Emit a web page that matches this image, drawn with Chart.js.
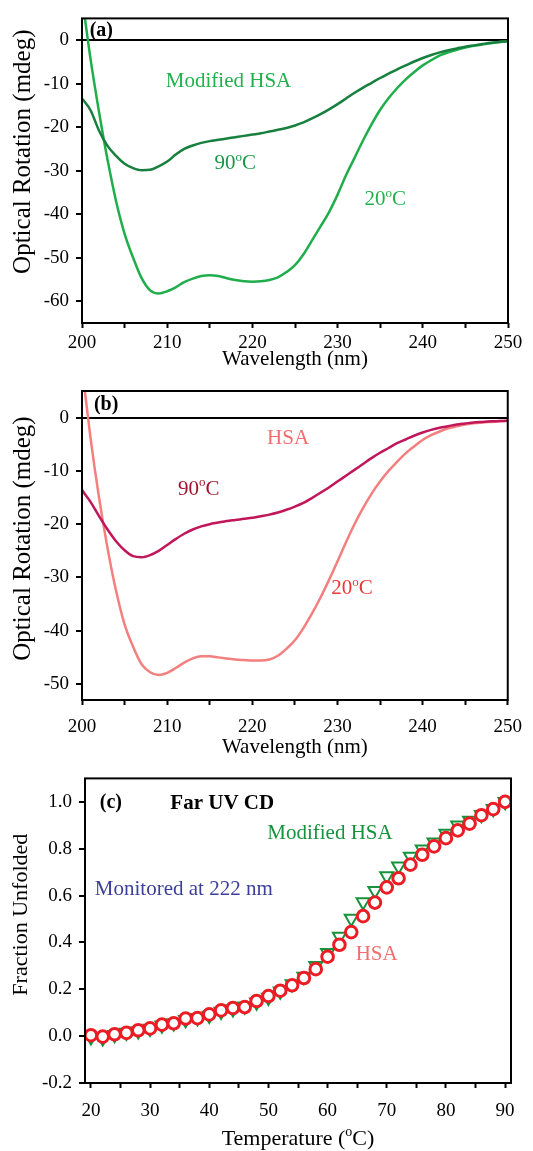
<!DOCTYPE html>
<html>
<head>
<meta charset="utf-8">
<title>CD spectra and thermal unfolding of HSA</title>
<script src="https://cdn.jsdelivr.net/npm/chart.js@4.4.1/dist/chart.umd.min.js"></script>
<style>
  html, body { margin: 0; padding: 0; background: #fff; }
  #wrap { position: relative; width: 533px; height: 1151px; }
  canvas { position: absolute; left: 0; }
</style>
</head>
<body>
<div id="wrap">
  <canvas id="panelA" width="533" height="372" style="top:0px"></canvas>
  <canvas id="panelB" width="533" height="388" style="top:372px"></canvas>
  <canvas id="panelC" width="533" height="391" style="top:760px"></canvas>
</div>
<script>
// wavelength grid of the far-UV CD spectra (nm)
const wavelength = [200, 201, 202, 203, 204, 205, 206, 207, 208, 209,
  210, 211, 212, 213, 214, 215, 216, 217, 218, 219,
  220, 221, 222, 223, 224, 225, 226, 227, 228, 229,
  230, 231, 232, 233, 234, 235, 236, 237, 238, 239,
  240, 241, 242, 243, 244, 245, 246, 247, 248, 249, 250];

// (a) modified HSA, optical rotation in mdeg
const modHsa20 = [10, -4.3, -16.5, -27.5, -37, -44.5, -50, -54.7, -57.5, -58.2,
  -57.7, -56.8, -55.6, -54.8, -54.2, -54, -54.2, -54.7, -55.1, -55.4,
  -55.5, -55.4, -55.1, -54.5, -53.3, -51.7, -49.2, -46, -42.8, -39.5,
  -35.5, -31, -27, -23, -19.3, -16, -13.3, -11, -9, -7.3,
  -5.8, -4.6, -3.5, -2.8, -2.2, -1.7, -1.3, -1, -0.7, -0.45, -0.25];
const modHsa90 = [-13.4, -16.1, -20.8, -24.3, -26.6, -28.4, -29.4, -29.9, -29.8, -29,
  -27.9, -26.3, -25, -24.2, -23.6, -23.2, -22.9, -22.6, -22.3, -22,
  -21.7, -21.4, -21, -20.6, -20.2, -19.6, -18.9, -18, -17, -15.9,
  -14.7, -13.4, -12.1, -10.9, -9.8, -8.7, -7.7, -6.7, -5.8, -4.9,
  -4.1, -3.4, -2.8, -2.3, -1.9, -1.5, -1.2, -0.9, -0.6, -0.4, -0.25];

// (b) native HSA
const hsa20 = [9.5, -3.8, -15, -24.5, -32.5, -38.8, -43, -46.3, -47.8, -48.3,
  -47.9, -47, -46, -45.2, -44.8, -44.8, -45, -45.2, -45.4, -45.5,
  -45.6, -45.6, -45.4, -44.7, -43.4, -41.8, -39.5, -36.8, -33.8, -30.5,
  -27, -23.4, -20, -17, -14.3, -12, -10, -8.3, -6.7, -5.4,
  -4.2, -3.3, -2.6, -2, -1.6, -1.3, -1.05, -0.9, -0.8, -0.7, -0.6];
const hsa90 = [-13.6, -15.8, -18.5, -21, -23.2, -24.9, -26, -26.2, -25.8, -25,
  -23.9, -22.8, -21.8, -21, -20.4, -20, -19.7, -19.4, -19.2, -19,
  -18.8, -18.5, -18.2, -17.8, -17.3, -16.7, -16, -15.1, -14.1, -13.1,
  -12, -10.9, -9.8, -8.7, -7.6, -6.6, -5.7, -4.8, -4.1, -3.4,
  -2.8, -2.3, -1.9, -1.6, -1.3, -1.1, -0.9, -0.8, -0.7, -0.65, -0.6];

// (c) thermal unfolding followed at 222 nm
const temperature = [20, 22, 24, 26, 28, 30, 32, 34, 36, 38, 40, 42, 44, 46, 48, 50, 52, 54,
  56, 58, 60, 62, 64, 66, 68, 70, 72, 74, 76, 78, 80, 82, 84, 86, 88, 90];
const hsaUnfolded = [0.004, -0.002, 0.008, 0.014, 0.025, 0.033, 0.049, 0.055, 0.075, 0.077,
  0.093, 0.11, 0.12, 0.124, 0.15, 0.171, 0.194, 0.217, 0.248, 0.286,
  0.339, 0.39, 0.444, 0.512, 0.57, 0.635, 0.674, 0.732, 0.774, 0.81,
  0.845, 0.878, 0.907, 0.943, 0.969, 1.0];
const modHsaUnfolded = [-0.004, -0.008, 0.006, 0.016, 0.022, 0.033, 0.046, 0.056, 0.07, 0.078,
  0.088, 0.105, 0.116, 0.128, 0.145, 0.165, 0.192, 0.222, 0.255, 0.3,
  0.356, 0.425, 0.502, 0.572, 0.62, 0.683, 0.725, 0.767, 0.798, 0.827,
  0.865, 0.9, 0.92, 0.945, 0.97, 1.0];

// tick positions and labels
const waveTicks = [200, 205, 210, 215, 220, 225, 230, 235, 240, 245, 250];
const waveLabels = [200, 210, 220, 230, 240, 250];
const rotTicksA = [0, -10, -20, -30, -40, -50, -60];
const rotTicksB = [0, -10, -20, -30, -40, -50];
const tempTicks = [20, 25, 30, 35, 40, 45, 50, 55, 60, 65, 70, 75, 80, 85, 90];
const tempLabels = [20, 30, 40, 50, 60, 70, 80, 90];
const fracTicks = [-0.2, 0, 0.2, 0.4, 0.6, 0.8, 1.0];

const serif = "'Liberation Serif', 'Times New Roman', serif";

// draws a run of text; a part that starts with '^' is raised as a superscript
function drawRich(ctx, parts, x, y, size, align, bold) {
  const font = s => (bold ? 'bold ' : '') + s + 'px ' + serif;
  const pieces = parts.map(p => {
    const sup = p.startsWith('^');
    const t = sup ? p.slice(1) : p;
    const s = sup ? Math.round(size * 0.62) : size;
    ctx.font = font(s);
    return { t, s, sup, w: ctx.measureText(t).width };
  });
  const total = pieces.reduce((a, p) => a + p.w, 0);
  let cx = align === 'left' ? x : x - total / 2;
  ctx.textAlign = 'left';
  ctx.textBaseline = 'alphabetic';
  for (const p of pieces) {
    ctx.font = font(p.s);
    ctx.fillText(p.t, cx, y + size * 0.33 - (p.sup ? size * 0.4 : 0));
    cx += p.w;
  }
}

// frame round the plot area
const frameBox = {
  id: 'frameBox',
  afterDatasetsDraw(chart) {
    const { ctx, chartArea: a } = chart;
    ctx.save();
    ctx.strokeStyle = '#000';
    ctx.lineWidth = 2;
    ctx.strokeRect(a.left, a.top, a.right - a.left, a.bottom - a.top);
    ctx.restore();
  }
};

// rotated y title, sitting a little above the middle of the axis
function yTitle(text, size, x, lift) {
  return {
    id: 'yTitle',
    afterDraw(chart) {
      const { ctx, chartArea: a } = chart;
      ctx.save();
      ctx.translate(x, (a.top + a.bottom) / 2 - lift);
      ctx.rotate(-Math.PI / 2);
      ctx.fillStyle = '#000';
      ctx.font = size + 'px ' + serif;
      ctx.textAlign = 'center';
      ctx.textBaseline = 'middle';
      ctx.fillText(text, 0, 0);
      ctx.restore();
    }
  };
}

// text labels placed in data coordinates
function notes(items) {
  return {
    id: 'notes',
    afterDraw(chart) {
      const { ctx } = chart;
      const xs = chart.scales.x, ys = chart.scales.y;
      ctx.save();
      items.forEach(n => {
        ctx.fillStyle = n.color;
        drawRich(ctx, n.parts, xs.getPixelForValue(n.x), ys.getPixelForValue(n.y),
          n.size, n.align, n.bold);
      });
      ctx.restore();
    }
  };
}

function xAxis(min, max, ticks, labels, title, height, pad) {
  return {
    type: 'linear', min: min, max: max,
    afterBuildTicks: s => { s.ticks = ticks.map(v => ({ value: v })); },
    afterFit: s => { s.height = height; },
    ticks: {
      autoSkip: false, maxRotation: 0, padding: pad, color: '#000',
      font: { family: serif, size: 19 },
      callback: v => labels.includes(v) ? String(v) : ''
    },
    grid: { drawOnChartArea: false, tickLength: 5, tickWidth: 2, tickColor: '#000' },
    border: { display: false },
    title: {
      display: !!title, text: title, color: '#000',
      font: { family: serif, size: 21 }, padding: { top: 0, bottom: 0 }
    }
  };
}

function yAxis(min, max, ticks, width, fmt, zeroLine) {
  return {
    type: 'linear', min: min, max: max,
    afterBuildTicks: s => { s.ticks = ticks.map(v => ({ value: v })); },
    afterFit: s => { s.width = width; },
    ticks: {
      padding: 7, color: '#000', font: { family: serif, size: 19 },
      callback: fmt
    },
    grid: {
      drawOnChartArea: zeroLine, tickLength: 6, lineWidth: 2, tickColor: '#000',
      color: c => (zeroLine && c.tick && c.tick.value === 0) ? '#000' : 'rgba(0,0,0,0)'
    },
    border: { display: false },
    title: { display: false }
  };
}

function curve(ys, color) {
  return {
    data: wavelength.map((w, i) => ({ x: w, y: ys[i] })),
    borderColor: color, borderWidth: 2.5, pointRadius: 0,
    cubicInterpolationMode: 'monotone', fill: false
  };
}

const base = {
  responsive: false, animation: false, devicePixelRatio: 1,
  plugins: { legend: { display: false }, tooltip: { enabled: false } }
};

// (a) modified HSA spectra
new Chart(document.getElementById('panelA'), {
  type: 'line',
  data: { datasets: [curve(modHsa90, '#17803f'), curve(modHsa20, '#1fae4b')] },
  options: Object.assign({}, base, {
    layout: { padding: { top: 12, right: 25, left: 0, bottom: 0 } },
    scales: {
      x: xAxis(200, 250, waveTicks, waveLabels, 'Wavelength (nm)', 49, 4),
      y: yAxis(-65, 5, rotTicksA, 82, v => String(v), true)
    }
  }),
  plugins: [frameBox, yTitle('Optical Rotation (mdeg)', 25, 23, 19), notes([
    { parts: ['(a)'], x: 200.9, y: 2.5, size: 20, align: 'left', bold: true, color: '#000' },
    { parts: ['Modified HSA'], x: 217.2, y: -9.2, size: 21, color: '#22b04c' },
    { parts: ['90', '^o', 'C'], x: 218, y: -28.1, size: 21, color: '#1a9646' },
    { parts: ['20', '^o', 'C'], x: 235.6, y: -36.4, size: 21, color: '#22b04c' }
  ])]
});

// (b) native HSA spectra
new Chart(document.getElementById('panelB'), {
  type: 'line',
  data: { datasets: [curve(hsa90, '#c0165a'), curve(hsa20, '#f37f7f')] },
  options: Object.assign({}, base, {
    layout: { padding: { top: 19, right: 25, left: 0, bottom: 0 } },
    scales: {
      x: xAxis(200, 250, waveTicks, waveLabels, 'Wavelength (nm)', 60, 11),
      y: yAxis(-53, 5, rotTicksB, 82, v => String(v), true)
    }
  }),
  plugins: [frameBox, yTitle('Optical Rotation (mdeg)', 25, 23, 7), notes([
    { parts: ['(b)'], x: 201.4, y: 2.75, size: 20, align: 'left', bold: true, color: '#000' },
    { parts: ['HSA'], x: 224.2, y: -3.6, size: 21, color: '#f06e6e' },
    { parts: ['90', '^o', 'C'], x: 213.7, y: -13.2, size: 21, color: '#a3142c' },
    { parts: ['20', '^o', 'C'], x: 231.7, y: -31.8, size: 21, color: '#ee3434' }
  ])]
});

// (c) fraction unfolded against temperature
const tempTitle = {
  id: 'tempTitle',
  afterDraw(chart) {
    const { ctx, chartArea: a } = chart;
    ctx.save();
    ctx.fillStyle = '#000';
    drawRich(ctx, ['Temperature (', '^o', 'C)'], (a.left + a.right) / 2, chart.height - 13, 22);
    ctx.restore();
  }
};

new Chart(document.getElementById('panelC'), {
  type: 'scatter',
  data: {
    datasets: [
      {
        data: temperature.map((t, i) => ({ x: t, y: hsaUnfolded[i] })),
        pointStyle: 'circle', pointRadius: 5.8, pointBorderWidth: 3,
        pointBorderColor: '#ec1c24', pointBackgroundColor: '#fff'
      },
      {
        data: temperature.map((t, i) => ({ x: t, y: modHsaUnfolded[i] })),
        pointStyle: 'triangle', pointRotation: 180, pointRadius: 7.5, pointBorderWidth: 2,
        pointBorderColor: '#15933a', pointBackgroundColor: '#fff'
      }
    ]
  },
  options: Object.assign({}, base, {
    layout: { padding: { top: 13, right: 22, left: 0, bottom: 0 } },
    scales: {
      x: xAxis(19, 91, tempTicks, tempLabels, '', 68, 12),
      y: yAxis(-0.2, 1.1, fracTicks, 85, v => v.toFixed(1), false)
    }
  }),
  plugins: [frameBox, tempTitle, yTitle('Fraction Unfolded', 22, 21, 16), notes([
    { parts: ['(c)'], x: 21.5, y: 1.0, size: 20, align: 'left', bold: true, color: '#000' },
    { parts: ['Far UV CD'], x: 42.2, y: 1.0, size: 21, bold: true, color: '#000' },
    { parts: ['Modified HSA'], x: 60.4, y: 0.87, size: 21, color: '#15933a' },
    { parts: ['Monitored at 222 nm'], x: 35.7, y: 0.63, size: 21, color: '#3b3f9a' },
    { parts: ['HSA'], x: 68.3, y: 0.354, size: 21, color: '#f06e6e' }
  ])]
});
</script>
</body>
</html>
